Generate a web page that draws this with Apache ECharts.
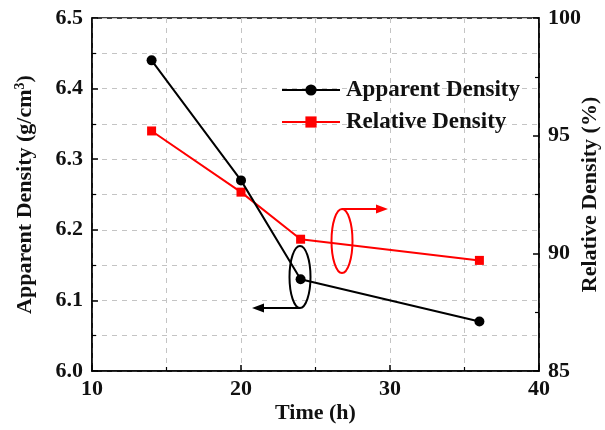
<!DOCTYPE html>
<html>
<head>
<meta charset="utf-8">
<script src="https://cdn.jsdelivr.net/npm/echarts@6/dist/echarts.min.js"></script>
<style>
  html, body { margin: 0; padding: 0; background: #fff; }
  #chart { width: 605px; height: 430px; }
</style>
</head>
<body>
<div id="chart"></div>
<script>
  // data
  const times = [14, 20, 24, 36];
  const apparentDensity = [6.44, 6.27, 6.13, 6.07];
  const relativeDensity = [95.2, 92.6, 90.6, 89.7];

  const font = '"Liberation Serif", "Times New Roman", serif';
  const dashGrid = { color: '#c4c4c4', type: [5, 5], width: 1 };
  const labelText = { fontFamily: font, fontSize: 22, fontWeight: 'bold', color: '#111' };
  const nameText = { fontFamily: font, fontSize: 22, fontWeight: 'bold', color: '#111' };

  let myChart = echarts.init(document.getElementById('chart'));

  function pairs(xs, ys) {
    return xs.map((x, i) => [x, ys[i]]);
  }

  let option = {
    animation: false,
    grid: {
      left: 92, right: 66, top: 18, bottom: 59,
      outerBoundsMode: 'none',
      containLabel: false,
      show: true, borderColor: '#000', borderWidth: 1.5
    },
    legend: {
      orient: 'vertical',
      left: 276, top: 73,
      itemWidth: 58, itemHeight: 14, itemGap: 8,
      textStyle: { fontFamily: font, fontSize: 23, fontWeight: 'bold', color: '#111', lineHeight: 24, padding: [0, 0, 0, 1] },
      data: ['Apparent Density', 'Relative Density']
    },
    xAxis: {
      type: 'value',
      min: 10, max: 40, interval: 10,
      name: 'Time (h)',
      nameLocation: 'middle',
      nameGap: 31,
      nameMoveOverlap: false,
      nameTextStyle: nameText,
      axisLine: { lineStyle: { color: '#000', width: 1.5 } },
      axisTick: { inside: true, length: 6, lineStyle: { color: '#000', width: 1.5 } },
      minorTick: { show: true, splitNumber: 2, length: 4, lineStyle: { color: '#000', width: 1.2 } },
      axisLabel: Object.assign({ margin: 7 }, labelText),
      splitLine: { show: true, lineStyle: dashGrid },
      minorSplitLine: { show: true, lineStyle: dashGrid }
    },
    yAxis: [
      {
        type: 'value',
        min: 6.0, max: 6.5, interval: 0.1,
        name: '{a|Apparent Density (g/cm}{s|3}{a|)}',
        nameLocation: 'middle',
        nameGap: 55,
        nameMoveOverlap: false,
        nameTextStyle: {
          rich: {
            a: nameText,
            s: { fontFamily: font, fontSize: 14, fontWeight: 'bold', color: '#111', padding: [0, 0, 10, 0] }
          }
        },
        axisLine: { show: true, lineStyle: { color: '#000', width: 1.5 } },
        axisTick: { show: true, inside: true, length: 6, lineStyle: { color: '#000', width: 1.5 } },
        minorTick: { show: true, splitNumber: 2, length: 4, lineStyle: { color: '#000', width: 1.2 } },
        axisLabel: Object.assign({ margin: 9, formatter: v => v.toFixed(1) }, labelText),
        splitLine: { show: true, lineStyle: dashGrid },
        minorSplitLine: { show: true, lineStyle: dashGrid }
      },
      {
        type: 'value',
        position: 'right',
        min: 85, max: 100, interval: 5,
        name: 'Relative Density (%)',
        nameLocation: 'middle',
        nameGap: 40,
        nameRotate: 90,
        nameMoveOverlap: false,
        nameTextStyle: nameText,
        axisLine: { show: true, lineStyle: { color: '#000', width: 1.5 } },
        axisTick: { show: true, inside: true, length: 6, lineStyle: { color: '#000', width: 1.5 } },
        minorTick: { show: true, splitNumber: 2, length: 4, lineStyle: { color: '#000', width: 1.2 } },
        axisLabel: Object.assign({ margin: 9 }, labelText),
        splitLine: { show: false }
      }
    ],
    series: [
      {
        name: 'Apparent Density',
        type: 'line',
        yAxisIndex: 0,
        data: pairs(times, apparentDensity),
        symbol: 'circle',
        symbolSize: 10,
        color: '#000',
        lineStyle: { color: '#000', width: 2 },
        itemStyle: { color: '#000' },
        z: 3
      },
      {
        name: 'Relative Density',
        type: 'line',
        yAxisIndex: 1,
        data: pairs(times, relativeDensity),
        symbol: 'rect',
        symbolSize: 9,
        color: '#ff0000',
        lineStyle: { color: '#ff0000', width: 2 },
        itemStyle: { color: '#ff0000' },
        z: 2
      }
    ],
    graphic: [
      // black ellipse + arrow pointing to the left axis
      { type: 'ellipse', shape: { cx: 300, cy: 277, rx: 10.5, ry: 31 }, style: { fill: 'none', stroke: '#000', lineWidth: 2 }, z: 10 },
      { type: 'line', shape: { x1: 300, y1: 308, x2: 262, y2: 308 }, style: { stroke: '#000', lineWidth: 2 }, z: 10 },
      { type: 'polygon', shape: { points: [[252, 308], [264, 303.5], [264, 312.5]] }, style: { fill: '#000' }, z: 10 },
      // red ellipse + arrow pointing to the right axis
      { type: 'ellipse', shape: { cx: 342, cy: 241, rx: 10.5, ry: 32 }, style: { fill: 'none', stroke: '#ff0000', lineWidth: 2 }, z: 10 },
      { type: 'line', shape: { x1: 342, y1: 209, x2: 378, y2: 209 }, style: { stroke: '#ff0000', lineWidth: 2 }, z: 10 },
      { type: 'polygon', shape: { points: [[388, 209], [376, 204.5], [376, 213.5]] }, style: { fill: '#ff0000' }, z: 10 }
    ]
  };

  myChart.setOption(option);
</script>
</body>
</html>
